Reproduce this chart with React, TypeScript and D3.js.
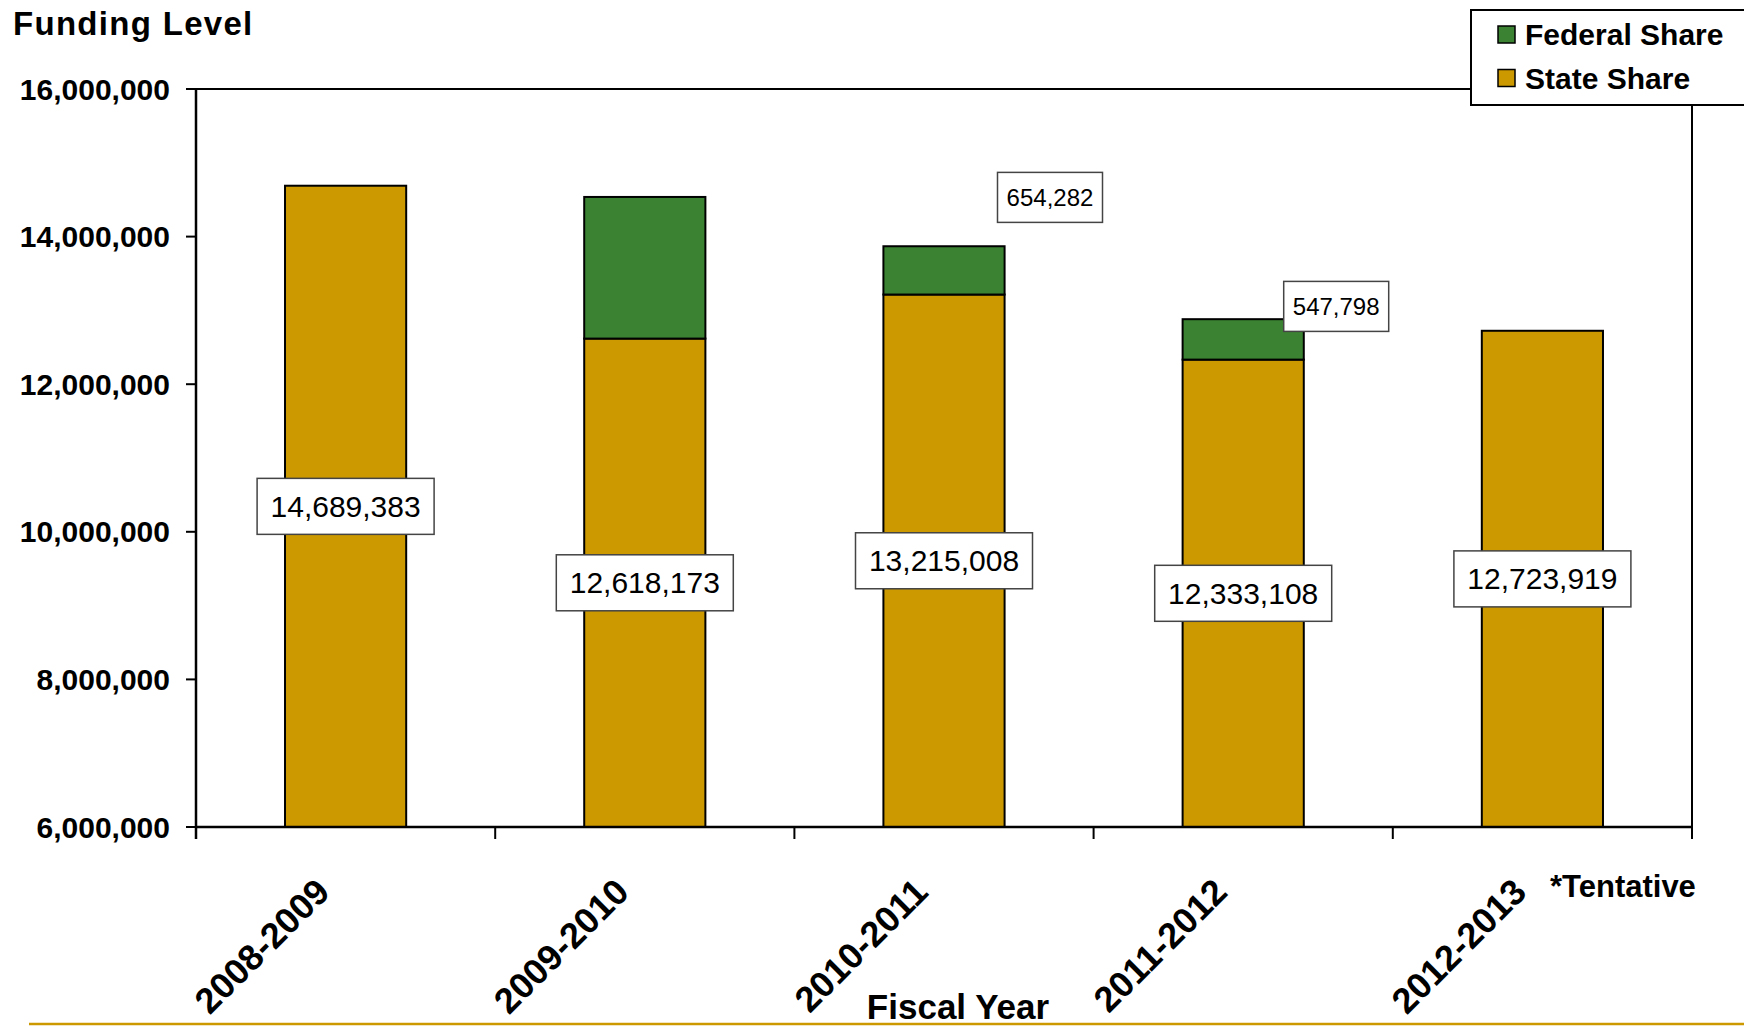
import React from 'react';
import * as d3 from 'd3';

const years = ['2008-2009', '2009-2010', '2010-2011', '2011-2012', '2012-2013'];
const stateShare = [14689383, 12618173, 13215008, 12333108, 12723919];
// 2009-2010 federal share has no label in the source
const federalShare = [0, 1919000, 654282, 547798, 0];
const federalLabelShown = [false, false, true, true, false];
const yTicks = [6000000, 8000000, 10000000, 12000000, 14000000, 16000000];

const GOLD = '#CC9900';
const GREEN = '#3B8332';
const FONT = '"Liberation Sans", Arial, Helvetica, sans-serif';

// hand-placed federal labels in the original (offset from segment center)
const fedNudge = [null, null, { dx: 106, dy: -73 }, { dx: 93, dy: -33 }, null];

export default function App() {
  const W = 1744, H = 1026;
  const left = 196, right = 1692, top = 89, bottom = 827;

  const rows = years.map((y, i) => ({ year: y, state: stateShare[i], federal: federalShare[i] }));
  const stack = d3.stack<any>().keys(['state', 'federal'])(rows);

  const x = d3.scaleBand().domain(years).range([left, right]).paddingInner(0.595).paddingOuter(0.2975);
  const y = d3.scaleLinear().domain([6000000, 16000000]).range([bottom, top]);
  const fmt = d3.format(',');
  const step = x.step();
  const bw = x.bandwidth();

  const yc = (v: number) => y(Math.max(v, 6000000));

  return (
    <div style={{ position: 'absolute', left: 0, top: 0 }}>
      <svg width={W} height={H} style={{ display: 'block', background: '#fff', fontFamily: FONT }}>
        <text x={13} y={35} fontSize={33} fontWeight="bold" letterSpacing={1.3}>Funding Level</text>

        {/* plot frame */}
        <line x1={left} x2={right} y1={top} y2={top} stroke="#000" strokeWidth={2} />
        <line x1={right} x2={right} y1={top} y2={bottom} stroke="#000" strokeWidth={2} />

        {/* bars */}
        {stack.map((layer, li) => (
          <g key={li}>
            {layer.map((d, i) => {
              if (d[1] - d[0] <= 0) return null;
              const x0 = x(years[i]) as number;
              return (
                <rect key={i} x={x0} y={yc(d[1])} width={bw} height={yc(d[0]) - yc(d[1])}
                  fill={li === 0 ? GOLD : GREEN} stroke="#000" strokeWidth={2} />
              );
            })}
          </g>
        ))}

        {/* y axis */}
        <line x1={left} x2={left} y1={top} y2={bottom + 12} stroke="#000" strokeWidth={2.5} />
        {yTicks.map(t => (
          <g key={t}>
            <line x1={left - 10} x2={left} y1={y(t)} y2={y(t)} stroke="#000" strokeWidth={2} />
            <text x={170} y={y(t) + 10.5} textAnchor="end" fontSize={30} fontWeight="bold">{fmt(t)}</text>
          </g>
        ))}

        {/* x axis */}
        <line x1={left} x2={right} y1={bottom} y2={bottom} stroke="#000" strokeWidth={2.5} />
        {d3.range(years.length + 1).map(k => (
          <line key={k} x1={left + k * step} x2={left + k * step} y1={bottom} y2={bottom + 12} stroke="#000" strokeWidth={2} />
        ))}
        {years.map(yr => {
          const cx = (x(yr) as number) + bw / 2;
          return (
            <text key={yr} transform={`translate(${cx - 14},${894}) rotate(-45)`} textAnchor="end"
              fontSize={36} fontWeight="bold">{yr}</text>
          );
        })}

        {/* state labels */}
        {stack[0].map((d, i) => {
          const cx = (x(years[i]) as number) + bw / 2;
          const cy = (yc(d[0]) + yc(d[1])) / 2;
          const bwid = 177, bh = 56;
          return (
            <g key={'s' + i}>
              <rect x={cx - bwid / 2} y={cy - bh / 2} width={bwid} height={bh} fill="#fff" stroke="#444" strokeWidth={1.5} />
              <text x={cx} y={cy + 10.5} textAnchor="middle" fontSize={30}>{fmt(stateShare[i])}</text>
            </g>
          );
        })}

        {/* federal labels */}
        {stack[1].map((d, i) => {
          const n = fedNudge[i];
          if (!federalLabelShown[i] || !n) return null;
          const cx = (x(years[i]) as number) + bw / 2 + n.dx;
          const cy = (yc(d[0]) + yc(d[1])) / 2 + n.dy;
          const bwid = 105, bh = 50;
          return (
            <g key={'f' + i}>
              <rect x={cx - bwid / 2} y={cy - bh / 2} width={bwid} height={bh} fill="#fff" stroke="#444" strokeWidth={1.5} />
              <text x={cx} y={cy + 8.5} textAnchor="middle" fontSize={24}>{fmt(federalShare[i])}</text>
            </g>
          );
        })}

        {/* legend */}
        <rect x={1471} y={10} width={290} height={95} fill="#fff" stroke="#000" strokeWidth={2} />
        <rect x={1498} y={26} width={17} height={17} fill={GREEN} stroke="#000" strokeWidth={1.5} />
        <text x={1525} y={45} fontSize={30} fontWeight="bold">Federal Share</text>
        <rect x={1498} y={69.5} width={17} height={17} fill={GOLD} stroke="#000" strokeWidth={1.5} />
        <text x={1525} y={89} fontSize={30} fontWeight="bold">State Share</text>

        <text x={1550} y={897} fontSize={31} fontWeight="bold">*Tentative</text>
        <text x={958} y={1019} textAnchor="middle" fontSize={35} fontWeight="bold">Fiscal Year</text>

        <line x1={29} x2={W} y1={1024} y2={1024} stroke={GOLD} strokeWidth={2.5} />
      </svg>
    </div>
  );
}
